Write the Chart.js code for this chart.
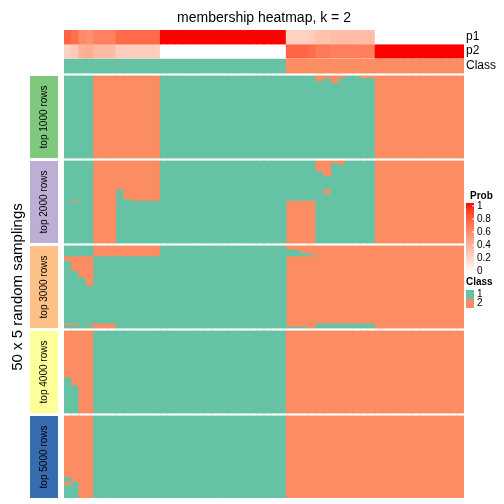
<!DOCTYPE html>
<html>
<head>
<meta charset="utf-8">
<script src="https://cdn.jsdelivr.net/npm/chart.js@4.4.0/dist/chart.umd.min.js"></script>
<style>
  html, body { margin: 0; padding: 0; background: #fff; }
</style>
</head>
<body>
<canvas id="heat" width="504" height="504"></canvas>
<script>
// 54 samples (columns), 5 slices of 50 random samplings (rows)
const nCols = 54;
const columns = Array.from({ length: nCols }, (_, i) => 'c' + (i + 1));

const p1 = [0.77, 0.72, 0.60, 0.57, 0.64, 0.64, 0.64, 0.74, 0.74, 0.74, 0.74, 0.74, 0.74,
  1, 1, 1, 1, 1, 1, 1, 1, 1, 1, 1, 1, 1, 1, 1, 1, 1,
  0.24, 0.24, 0.24, 0.27, 0.32, 0.32, 0.35, 0.35, 0.35, 0.35, 0.35, 0.35,
  0, 0, 0, 0, 0, 0, 0, 0, 0, 0, 0, 0];
const p2 = [0.23, 0.28, 0.40, 0.43, 0.36, 0.36, 0.36, 0.26, 0.26, 0.26, 0.26, 0.26, 0.26,
  0, 0, 0, 0, 0, 0, 0, 0, 0, 0, 0, 0, 0, 0, 0, 0, 0,
  0.76, 0.76, 0.76, 0.73, 0.68, 0.68, 0.65, 0.65, 0.65, 0.65, 0.65, 0.65,
  1, 1, 1, 1, 1, 1, 1, 1, 1, 1, 1, 1];
const colClass = [1, 1, 1, 1, 1, 1, 1, 1, 1, 1, 1, 1, 1, 1, 1, 1, 1, 1, 1, 1, 1, 1, 1, 1, 1, 1, 1, 1, 1, 1,
  2, 2, 2, 2, 2, 2, 2, 2, 2, 2, 2, 2, 2, 2, 2, 2, 2, 2, 2, 2, 2, 2, 2, 2];

const sliceNames = ['top 1000 rows', 'top 2000 rows', 'top 3000 rows', 'top 4000 rows', 'top 5000 rows'];
const sliceColors = ['#7FC97F', '#BEAED4', '#FDC086', '#FFFF99', '#386CB0'];

// per slice: [firstCol, lastCol, runs top->bottom as [class, nRows]]
const top1000 = [
  [0, 3, [[1, 50]]], [4, 12, [[2, 50]]], [13, 33, [[1, 50]]],
  [34, 34, [[2, 3], [1, 47]]], [35, 35, [[2, 1], [1, 49]]], [36, 36, [[2, 4], [1, 46]]],
  [37, 37, [[2, 1], [1, 49]]], [38, 39, [[1, 50]]], [40, 41, [[2, 1], [1, 49]]], [42, 53, [[2, 50]]]
];
const top2000 = [
  [0, 0, [[1, 50]]], [1, 1, [[1, 24], [2, 1], [1, 25]]], [2, 3, [[1, 50]]], [4, 6, [[2, 50]]],
  [7, 7, [[2, 17], [1, 33]]], [8, 8, [[2, 23], [1, 27]]], [9, 12, [[2, 24], [1, 26]]],
  [13, 29, [[1, 50]]], [30, 33, [[1, 24], [2, 26]]], [34, 34, [[2, 6], [1, 44]]],
  [35, 35, [[2, 9], [1, 8], [2, 3], [1, 30]]], [36, 36, [[2, 1], [1, 49]]], [37, 37, [[2, 2], [1, 48]]],
  [38, 41, [[1, 50]]], [42, 53, [[2, 50]]]
];
const top3000 = [
  [0, 0, [[1, 6], [2, 3], [1, 38], [2, 1], [1, 2]]], [1, 1, [[1, 6], [2, 9], [1, 32], [2, 1], [1, 2]]],
  [2, 2, [[1, 6], [2, 13], [1, 31]]], [3, 3, [[1, 6], [2, 18], [1, 23], [2, 1], [1, 2]]],
  [4, 6, [[2, 6], [1, 41], [2, 3]]], [7, 12, [[2, 6], [1, 44]]], [13, 29, [[1, 50]]],
  [30, 31, [[2, 2], [1, 4], [2, 43], [1, 1]]], [32, 32, [[2, 4], [1, 2], [2, 43], [1, 1]]],
  [33, 33, [[2, 5], [1, 1], [2, 44]]], [34, 41, [[2, 47], [1, 3]]], [42, 53, [[2, 50]]]
];
const top4000 = [
  [0, 0, [[2, 28], [1, 22]]], [1, 1, [[2, 33], [1, 17]]], [2, 3, [[2, 50]]],
  [4, 29, [[1, 50]]], [30, 53, [[2, 50]]]
];
const top5000 = [
  [0, 0, [[2, 37], [1, 3], [2, 2], [1, 8]]], [1, 1, [[2, 40], [1, 10]]], [2, 3, [[2, 50]]],
  [4, 29, [[1, 50]]], [30, 53, [[2, 50]]]
];
const slices = [top1000, top2000, top3000, top4000, top5000];

const GREEN = '#66C2A5', ORANGE = '#FC8D62';
const classColor = c => (c === 1 ? GREEN : ORANGE);

// layout along the y axis (one unit = one pixel of the body)
const ANNO = [[0, 14], [14, 28], [29, 43]];
const BODY_TOP = 46, SLICE_H = 82, SLICE_GAP = 3, N_ROWS = 50;
const sliceTop = s => BODY_TOP + s * (SLICE_H + SLICE_GAP);
const ROW_H = SLICE_H / N_ROWS;

// white -> red in LAB, as colorRamp2 does
function labToRgb(L, a, b) {
  const fy = (L + 16) / 116, fx = fy + a / 500, fz = fy - b / 200;
  const f = t => (t ** 3 > 0.008856 ? t ** 3 : (t - 16 / 116) / 7.787);
  const X = 0.95047 * f(fx), Y = f(fy), Z = 1.08883 * f(fz);
  const r = 3.2406 * X - 1.5372 * Y - 0.4986 * Z;
  const g = -0.9689 * X + 1.8758 * Y + 0.0415 * Z;
  const bl = 0.0557 * X - 0.2040 * Y + 1.0570 * Z;
  const gam = c => {
    c = c > 0.0031308 ? 1.055 * Math.pow(c, 1 / 2.4) - 0.055 : 12.92 * c;
    return Math.round(255 * Math.min(1, Math.max(0, c)));
  };
  return `rgb(${gam(r)},${gam(g)},${gam(bl)})`;
}
const probColor = p => labToRgb(100 - 46.76 * p, 80.09 * p, 67.2 * p);

const datasets = [];
[p1, p2].forEach((vals, i) => {
  datasets.push({
    data: vals.map(() => ANNO[i]),
    backgroundColor: vals.map(probColor)
  });
});
datasets.push({
  data: colClass.map(() => ANNO[2]),
  backgroundColor: colClass.map(classColor)
});

slices.forEach((groups, s) => {
  const perCol = [];
  groups.forEach(([a, b, runs]) => { for (let c = a; c <= b; c++) perCol[c] = runs; });
  const layers = Math.max(...perCol.map(r => r.length));
  for (let k = 0; k < layers; k++) {
    const data = [], colors = [];
    perCol.forEach(runs => {
      if (k >= runs.length) { data.push(null); colors.push(null); return; }
      const start = runs.slice(0, k).reduce((sum, r) => sum + r[1], 0);
      data.push([sliceTop(s) + start * ROW_H, sliceTop(s) + (start + runs[k][1]) * ROW_H]);
      colors.push(classColor(runs[k][0]));
    });
    datasets.push({ data, backgroundColor: colors });
  }
});

const FONT = '"Liberation Sans", Arial, sans-serif';

const decorations = {
  id: 'decorations',
  afterDraw(chart) {
    const { ctx, chartArea: area, scales: { y } } = chart;
    ctx.save();
    ctx.fillStyle = '#000';
    ctx.textBaseline = 'middle';

    ctx.font = '14px ' + FONT;
    ctx.textAlign = 'center';
    ctx.fillText('membership heatmap, k = 2', (area.left + area.right) / 2, 18);

    ctx.font = '12px ' + FONT;
    ctx.textAlign = 'left';
    ['p1', 'p2', 'Class'].forEach((t, i) => {
      ctx.fillText(t, area.right + 2, y.getPixelForValue((ANNO[i][0] + ANNO[i][1]) / 2));
    });

    // slice titles
    sliceNames.forEach((name, s) => {
      const y0 = y.getPixelForValue(sliceTop(s)), y1 = y.getPixelForValue(sliceTop(s) + SLICE_H);
      ctx.fillStyle = sliceColors[s];
      ctx.fillRect(area.left - 34, y0, 28, y1 - y0);
      ctx.save();
      ctx.translate(area.left - 20, (y0 + y1) / 2);
      ctx.rotate(-Math.PI / 2);
      ctx.fillStyle = '#000';
      ctx.font = '10px ' + FONT;
      ctx.textAlign = 'center';
      ctx.fillText(name, 0, 0);
      ctx.restore();
    });

    const bodyMid = (y.getPixelForValue(sliceTop(0)) + y.getPixelForValue(sliceTop(4) + SLICE_H)) / 2;
    ctx.save();
    ctx.translate(18, bodyMid);
    ctx.rotate(-Math.PI / 2);
    ctx.font = '15px ' + FONT;
    ctx.textAlign = 'center';
    ctx.fillStyle = '#000';
    ctx.fillText('50 x 5 random samplings', 0, 0);
    ctx.restore();

    // legends
    const lx = area.right + 2;
    ctx.fillStyle = '#000';
    ctx.font = 'bold 10px ' + FONT;
    ctx.textAlign = 'left';
    ctx.fillText('Prob', lx + 4, 196);
    const gTop = 203, gBot = 273;
    const grad = ctx.createLinearGradient(0, gBot, 0, gTop);
    for (let i = 0; i <= 10; i++) grad.addColorStop(i / 10, probColor(i / 10));
    ctx.fillStyle = grad;
    ctx.fillRect(lx, gTop, 8, gBot - gTop);
    ctx.font = '10px ' + FONT;
    [1, 0.8, 0.6, 0.4, 0.2, 0].forEach(v => {
      const ty = gBot - 2 - v * (gBot - gTop - 5);
      ctx.strokeStyle = '#fff';
      ctx.lineWidth = 1;
      ctx.beginPath();
      ctx.moveTo(lx + 6, ty); ctx.lineTo(lx + 8, ty);
      ctx.stroke();
      ctx.fillStyle = '#000';
      ctx.fillText(String(v), lx + 11, ty);
    });

    ctx.fillStyle = '#000';
    ctx.font = 'bold 10px ' + FONT;
    ctx.fillText('Class', lx, 282);
    [1, 2].forEach((c, i) => {
      ctx.fillStyle = classColor(c);
      ctx.fillRect(lx, 290 + i * 9, 8, 9);
      ctx.fillStyle = '#000';
      ctx.font = '10px ' + FONT;
      ctx.fillText(String(c), lx + 11, 294.5 + i * 9);
    });
    ctx.restore();
  }
};

new Chart(document.getElementById('heat'), {
  type: 'bar',
  data: { labels: columns, datasets },
  options: {
    responsive: false,
    devicePixelRatio: 1,
    animation: false,
    layout: { padding: { left: 64, right: 40, top: 30, bottom: 6 } },
    datasets: {
      bar: { grouped: false, barPercentage: 1, categoryPercentage: 1, borderWidth: 0, inflateAmount: 0.4 }
    },
    scales: {
      x: { display: false, offset: true },
      y: { display: false, reverse: true, min: 0, max: 468 }
    },
    plugins: { legend: { display: false }, tooltip: { enabled: false }, title: { display: false } }
  },
  plugins: [decorations]
});
</script>
</body>
</html>
